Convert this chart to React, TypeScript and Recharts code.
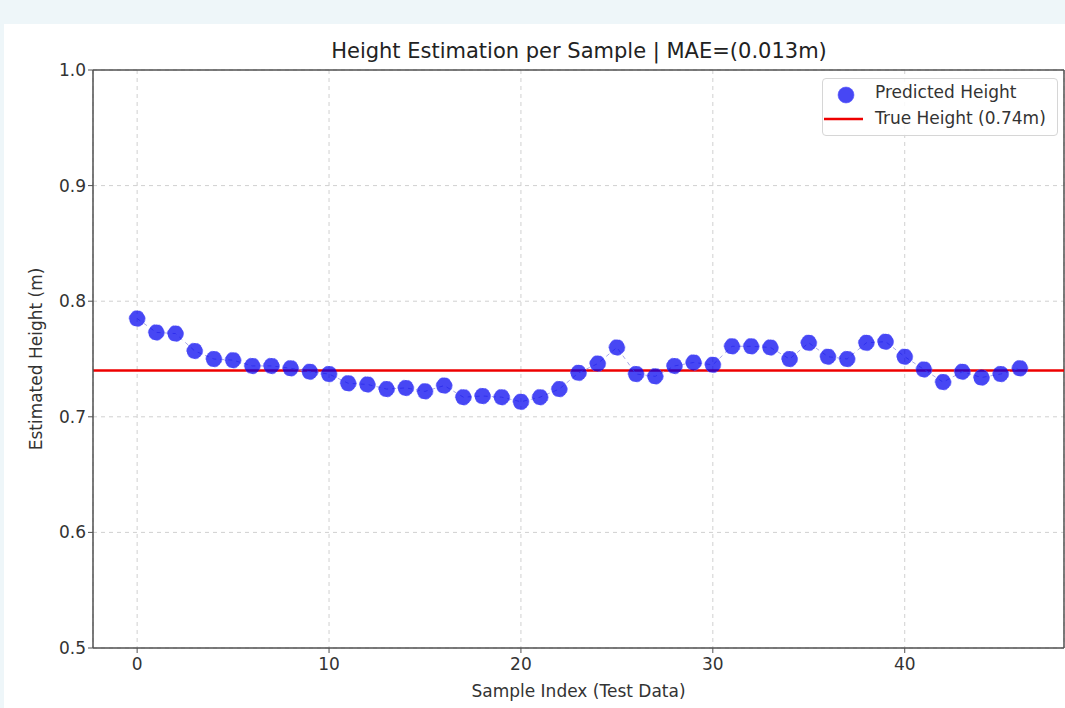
import { ComposedChart, Line, XAxis, YAxis, CartesianGrid, ReferenceLine } from 'recharts';

const sampleIndex = [
  0, 1, 2, 3, 4, 5, 6, 7, 8, 9, 10, 11, 12, 13, 14, 15, 16, 17, 18, 19, 20, 21, 22, 23,
  24, 25, 26, 27, 28, 29, 30, 31, 32, 33, 34, 35, 36, 37, 38, 39, 40, 41, 42, 43, 44, 45, 46,
];

const predictedHeight = [
  0.785, 0.773, 0.772, 0.757, 0.750, 0.749, 0.744, 0.744, 0.742, 0.739, 0.737, 0.729,
  0.728, 0.724, 0.725, 0.722, 0.727, 0.717, 0.718, 0.717, 0.713, 0.717, 0.724, 0.738,
  0.746, 0.760, 0.737, 0.735, 0.744, 0.747, 0.745, 0.761, 0.761, 0.760, 0.750, 0.764,
  0.752, 0.750, 0.764, 0.765, 0.752, 0.741, 0.730, 0.739, 0.734, 0.737, 0.742,
];

const trueHeight = 0.74;
const xTicks = [0, 10, 20, 30, 40];
const yTicks = [0.5, 0.6, 0.7, 0.8, 0.9, 1.0];
const xDomain = [-2.3, 48.3];
const yDomain = [0.5, 1.0];

const data = sampleIndex.map((i, k) => ({ idx: i, height: predictedHeight[k] }));

const FONT = '"DejaVu Sans", sans-serif';
const TEXT = '#333333';
const SPINE = '#505050';

function LegendBox() {
  return (
    <div
      style={{
        position: 'absolute',
        left: 822,
        top: 78,
        width: 236,
        height: 58,
        boxSizing: 'border-box',
        border: '1px solid #d6d6d6',
        borderRadius: 4,
        background: 'rgba(255,255,255,0.85)',
        fontFamily: FONT,
        fontSize: 17,
        color: TEXT,
      }}
    >
      <svg width={50} height={58} style={{ position: 'absolute', left: 0, top: 0 }}>
        <circle cx={23} cy={16} r={8} fill="rgba(0,0,240,0.72)" stroke="rgba(90,90,255,0.6)" strokeWidth={1} />
        <line x1={1} x2={40} y1={40} y2={40} stroke="#ee0000" strokeWidth={2.5} />
      </svg>
      <div style={{ position: 'absolute', left: 52, top: 3, whiteSpace: 'nowrap' }}>Predicted Height</div>
      <div style={{ position: 'absolute', left: 52, top: 29, whiteSpace: 'nowrap' }}>True Height (0.74m)</div>
    </div>
  );
}

function YLabel({ viewBox }: any) {
  const cy = viewBox.y + viewBox.height / 2;
  return (
    <text
      x={36}
      y={cy}
      transform={`rotate(-90, 36, ${cy})`}
      textAnchor="middle"
      dominantBaseline="central"
      fontFamily={FONT}
      fontSize={17}
      fill={TEXT}
    >
      Estimated Height (m)
    </text>
  );
}

function XLabel({ viewBox }: any) {
  const cx = viewBox.x + viewBox.width / 2;
  return (
    <text x={cx} y={697} textAnchor="middle" fontFamily={FONT} fontSize={17} fill={TEXT}>
      Sample Index (Test Data)
    </text>
  );
}

export default function App() {
  return (
    <div style={{ position: 'fixed', left: 0, top: 0, width: 1065, height: 708, background: '#eef6f9', overflow: 'hidden' }}>
      <div style={{ position: 'absolute', left: 4, top: 24, width: 1061, height: 684, background: '#ffffff' }} />
      <div
        style={{
          position: 'absolute',
          left: 93,
          width: 972,
          top: 39,
          textAlign: 'center',
          fontFamily: FONT,
          fontSize: 21,
          color: '#222',
        }}
      >
        Height Estimation per Sample | MAE=(0.013m)
      </div>
      <div style={{ position: 'absolute', left: 0, top: 0 }}>
        <ComposedChart width={1065} height={708} data={data} margin={{ top: 70, right: 1, bottom: 0, left: 0 }}>
          <CartesianGrid stroke="#d0d0d0" strokeDasharray="4 4" />
          <XAxis
            dataKey="idx"
            type="number"
            domain={xDomain}
            ticks={xTicks}
            allowDataOverflow
            height={60}
            axisLine={{ stroke: SPINE, strokeWidth: 1.5 }}
            tickLine={{ stroke: SPINE }}
            tickSize={5}
            tick={{ fill: TEXT, fontSize: 17, fontFamily: FONT, dy: 3 }}
            label={<XLabel />}
          />
          <YAxis
            type="number"
            domain={yDomain}
            ticks={yTicks}
            allowDataOverflow
            width={93}
            axisLine={{ stroke: SPINE, strokeWidth: 1.5 }}
            tickLine={{ stroke: SPINE }}
            tickSize={5}
            tickFormatter={(v: number) => v.toFixed(1)}
            tick={{ fill: TEXT, fontSize: 17, fontFamily: FONT }}
            label={<YLabel />}
          />
          <ReferenceLine y={1.0} stroke={SPINE} strokeWidth={1.5} />
          <ReferenceLine x={48.3} stroke={SPINE} strokeWidth={1.5} />
          <ReferenceLine y={trueHeight} stroke="#ee0000" strokeWidth={2.5} />
          <Line
            dataKey="height"
            type="linear"
            stroke="#a8a8e8"
            strokeWidth={1}
            strokeDasharray="4 4"
            dot={{ r: 8, fill: 'rgba(0,0,240,0.72)', stroke: 'rgba(90,90,255,0.6)', strokeWidth: 1 }}
            activeDot={false}
            isAnimationActive={false}
          />
        </ComposedChart>
      </div>
      <LegendBox />
    </div>
  );
}
